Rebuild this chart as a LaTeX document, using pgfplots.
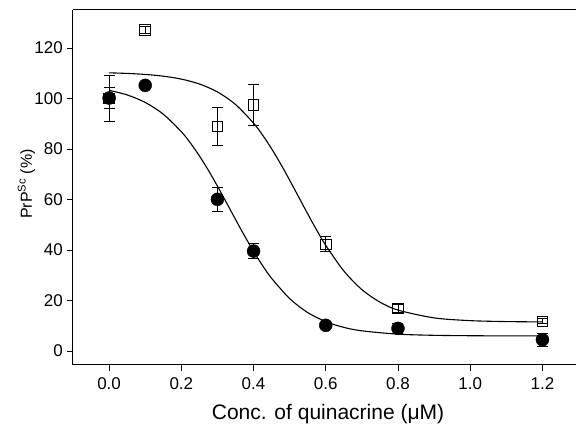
\documentclass[border=0pt]{standalone}
\usepackage{fontspec}
\setmainfont{Liberation Sans}
\usepackage{pgfplots}
\usepackage{pgfplotstable}
\pgfplotsset{compat=1.18}

\pgfplotstableread{
x    y     e
0.0  100.0 9.0
0.1  127.1 1.5
0.3  89.0  7.5
0.4  97.4  8.0
0.6  42.3  3.0
0.8  16.9  1.5
1.2  11.8  1.0
}\squares

\pgfplotstableread{
x    y     e
0.0  100.2 4.0
0.1  105.2 1.0
0.3  60.1  4.7
0.4  39.6  3.0
0.6  10.2  1.0
0.8  9.0   2.0
1.2  4.5   2.5
}\circles

\begin{document}
\begin{tikzpicture}
\begin{axis}[
  scale only axis, width=503pt, height=355pt,
  xmin=-0.1, xmax=1.293, ymin=-5.5, ymax=135.05,
  axis x line=box, axis y line=left,
  axis line style={-, line width=1pt},
  xtick={0,0.2,0.4,0.6,0.8,1.0,1.2},
  ytick={0,20,40,60,80,100,120},
  xtick pos=bottom, ytick pos=left,
  tick align=outside, major tick length=6pt,
  tick style={black, line width=0.9pt},
  /pgf/number format/assume math mode=true,
  ticklabel style={font=\fontsize{17}{19}\selectfont},
  xticklabel style={/pgf/number format/fixed, /pgf/number format/fixed zerofill, /pgf/number format/precision=1, yshift=-3pt},
  yticklabel style={inner sep=4pt},
  xlabel={Conc. of quinacrine (μM)},
  xlabel style={font=\fontsize{21}{23}\selectfont, at={(axis description cs:0.507,0)}, anchor=base, yshift=-55pt},
  ylabel={PrP\textsuperscript{Sc} (\%)},
  ylabel style={font=\fontsize{16}{18}\selectfont, at={(axis description cs:-0.0924,0.51)}, anchor=center},
]
\coordinate (sw) at (rel axis cs:0,0);
\coordinate (ne) at (rel axis cs:1,1);

% fitted curve, squares
\addplot[black, line width=1.1pt, smooth] coordinates {
(0,110.17) (0.05,109.94) (0.1,109.53) (0.15,108.85) (0.2,107.69) (0.25,105.76)
(0.3,102.61) (0.35,97.65) (0.4,90.26) (0.425,85.53) (0.45,80.13) (0.475,74.13)
(0.5,67.68) (0.525,61.00) (0.55,54.32) (0.575,47.87) (0.6,41.87) (0.65,31.74)
(0.7,24.36) (0.75,19.39) (0.8,16.24) (0.9,13.15) (1.0,12.06) (1.1,11.69) (1.2,11.56)
};
% fitted curve, circles
\addplot[black, line width=1.1pt, smooth] coordinates {
(0,103.26) (0.05,101.42) (0.1,98.45) (0.15,93.80) (0.2,86.86) (0.225,82.42)
(0.25,77.29) (0.275,71.56) (0.3,65.33) (0.325,58.79) (0.35,52.15) (0.375,45.65)
(0.4,39.49) (0.425,33.85) (0.45,28.83) (0.5,20.80) (0.55,15.26) (0.6,11.66)
(0.65,9.40) (0.7,8.03) (0.8,6.71) (0.9,6.25) (1.0,6.09) (1.1,6.03) (1.2,6.01)
};

\addplot[black, only marks, mark=square, mark size=5.3pt,
  mark options={line width=0.9pt, fill=none},
  error bars/.cd, y dir=both, y explicit,
  error bar style={line width=0.9pt, black},
  error mark options={rotate=90, mark size=5.5pt, line width=0.9pt, black}]
  table[x=x, y=y, y error=e] {\squares};

\addplot[black, only marks, mark=*, mark size=6.5pt,
  mark options={fill=black},
  error bars/.cd, y dir=both, y explicit,
  error bar style={line width=0.9pt, black},
  error mark options={rotate=90, mark size=5.5pt, line width=0.9pt, black}]
  table[x=x, y=y, y error=e] {\circles};
\end{axis}
\pgfresetboundingbox
\path[use as bounding box] ([shift={(-73pt,-63pt)}]sw) rectangle ([shift={(0pt,10pt)}]ne);
\end{tikzpicture}
\end{document}
